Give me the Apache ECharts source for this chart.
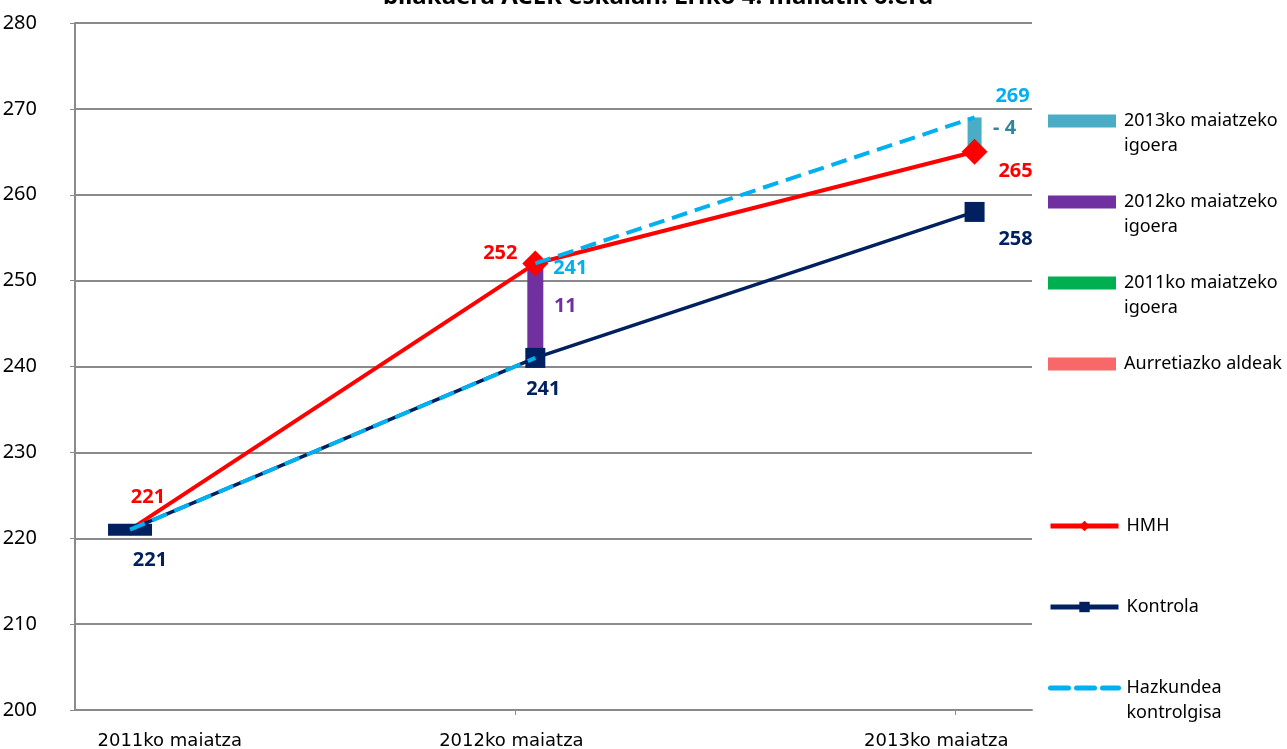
<!DOCTYPE html>
<html lang="eu">
<head>
<meta charset="UTF-8">
<title>ACER eskala</title>
<script src="https://cdn.jsdelivr.net/npm/echarts@6/dist/echarts.min.js"></script>
<style>
  html, body { margin: 0; padding: 0; background: #fff; }
  #chart { width: 1287px; height: 749px; }
</style>
</head>
<body>
<div id="chart"></div>
<script>
// datuak
var titleText = 'bilakaera ACER eskalan. LHko 4. mailatik 6.era';
var cats = ['2011ko maiatza', '2012ko maiatza', '2013ko maiatza'];
var pointX = [5.75, 48.1, 94.0];    // neurketa bakoitzaren kokapena x ardatzean (0-100)
var labelX = [9.9, 45.6, 90.0];     // kategoria-etiketen kokapena
var tickX = [46, 92];
var yMin = 200, yMax = 280, yStep = 10;

var hmh = [221, 252, 265];
var kontrola = [221, 241, 258];
var hazkundeaA = [221, 241];        // 2011 -> 2012
var hazkundeaB = [252, 269];        // 2012 -> 2013
var hazkundeaLabels = ['241', '269'];
var igoera2012 = [241, 252];
var igoera2013 = [265, 269];
var igoera2011 = [221, 221];
var aurretiazko = [221, 221];

var legendNames = ['2013ko maiatzeko igoera', '2012ko maiatzeko igoera', '2011ko maiatzeko igoera',
  'Aurretiazko aldeak', 'HMH', 'Kontrola', 'Hazkundea kontrolgisa'];
var legendText = {
  '2013ko maiatzeko igoera': '2013ko maiatzeko\nigoera',
  '2012ko maiatzeko igoera': '2012ko maiatzeko\nigoera',
  '2011ko maiatzeko igoera': '2011ko maiatzeko\nigoera',
  'Hazkundea kontrolgisa': 'Hazkundea\nkontrolgisa'
};

var FONT = 'Noto Sans';
var LH = 25;

function pts(xs, ys) {
  return ys.map(function (v, i) { return [xs[i], v]; });
}
function baseLabel() {
  return { show: true, position: 'inside', fontFamily: FONT, fontWeight: 'bold', fontSize: 20,
    formatter: function (p) { return p.data.txt; } };
}
function mk(data, color, offs, texts) {
  return data.map(function (d, i) {
    return { value: d, txt: texts[i], label: { show: texts[i] !== '', offset: offs[i], color: color } };
  });
}
// etiketak bakarrik (ikurrik gabeko serieentzat)
function labelSeries(id, data, color, offs, texts) {
  return {
    name: id, type: 'line', z: 6, symbol: 'circle', symbolSize: 0.1,
    itemStyle: { color: 'rgba(0,0,0,0)' }, lineStyle: { width: 0, opacity: 0 },
    data: mk(data, color, offs, texts), label: baseLabel()
  };
}

var chart = echarts.init(document.getElementById('chart'));

var legends = [];
var legendCenters = [121, 202, 283, 364, 526, 607, 688];
legendNames.forEach(function (n, i) {
  var two = !!legendText[n];
  var isBar = i < 4;
  var dashed = n === 'Hazkundea kontrolgisa';
  legends.push({
    data: [{ name: n, icon: isBar ? 'rect' : undefined }],
    left: 1048,
    top: legendCenters[i] - (two ? LH * 1.5 : LH / 2),
    padding: 0,
    itemWidth: 68,
    itemHeight: 13,
    selectedMode: false,
    itemStyle: dashed ? { opacity: 0 } : {},
    lineStyle: dashed ? { width: 5, type: [18, 8], cap: 'round' } : { width: 5 },
    // goiko lerro hutsa: lehen lerroa ikonoarekin lerrokatzeko
    formatter: function (name) { return legendText[name] ? ' \n' + legendText[name] : name; },
    textStyle: { fontFamily: FONT, fontSize: 18, color: '#000', lineHeight: LH, padding: [0, 0, 0, 3] }
  });
});

var option = {
  animation: false,
  backgroundColor: '#fff',
  title: {
    text: titleText,
    left: 653, top: -20, textAlign: 'center',
    textStyle: { fontFamily: FONT, fontWeight: 'bold', fontSize: 24, color: '#000' }
  },
  legend: legends,
  grid: { left: 75, right: 255, top: 23, bottom: 39, outerBoundsMode: 'none', containLabel: false },
  xAxis: {
    type: 'value', min: 0, max: 100,
    splitLine: { show: false },
    axisLine: { show: true, lineStyle: { color: '#8a8a8a', width: 2 } },
    axisTick: { show: true, customValues: tickX, length: 5, lineStyle: { color: '#8a8a8a', width: 1 } },
    axisLabel: {
      customValues: labelX, margin: 22, color: '#000', fontFamily: 'DejaVu Sans', fontSize: 18,
      formatter: function (v) {
        var i = labelX.indexOf(v);
        return i >= 0 ? cats[i] : '';
      }
    }
  },
  yAxis: {
    type: 'value', min: yMin, max: yMax, interval: yStep,
    axisLine: { show: true, lineStyle: { color: '#8a8a8a', width: 2 } },
    axisTick: { show: true, inside: false, length: 5, lineStyle: { color: '#8a8a8a', width: 1 } },
    axisLabel: { color: '#000', fontFamily: FONT, fontSize: 20, margin: 38 },
    splitLine: { show: true, lineStyle: { color: '#8a8a8a', width: 2 } }
  },
  series: [
    {
      name: '2013ko maiatzeko igoera', type: 'line', z: 2, symbol: 'none',
      color: '#4BACC6', lineStyle: { width: 14, color: '#4BACC6' },
      data: pts([pointX[2], pointX[2]], igoera2013)
    },
    {
      name: '2012ko maiatzeko igoera', type: 'line', z: 2, symbol: 'none',
      color: '#7030A0', lineStyle: { width: 16, color: '#7030A0' },
      data: pts([pointX[1], pointX[1]], igoera2012)
    },
    {
      name: '2011ko maiatzeko igoera', type: 'line', z: 2, symbol: 'none',
      color: '#00B050', lineStyle: { width: 14, color: '#00B050' },
      data: pts([pointX[0], pointX[0]], igoera2011)
    },
    {
      name: 'Aurretiazko aldeak', type: 'line', z: 2, symbol: 'none',
      color: '#F86868', lineStyle: { width: 14, color: '#F86868' },
      data: pts([pointX[0], pointX[0]], aurretiazko)
    },
    {
      name: 'HMH', type: 'line', z: 3, symbol: 'diamond',
      symbolSize: function (v, p) { return p.dataIndex === 0 ? 12 : 26; },
      color: '#FF0000', lineStyle: { width: 4, color: '#FF0000' },
      itemStyle: { color: '#FF0000' },
      data: mk(pts(pointX, hmh), '#FF0000', [[18, -32], [-35, -10], [41, 19]], hmh.map(String)),
      label: baseLabel()
    },
    {
      name: 'Kontrola', type: 'line', z: 4, symbol: 'rect',
      symbolSize: function (v, p) { return p.dataIndex === 0 ? [44, 12] : 20; },
      color: '#002060', lineStyle: { width: 3.5, color: '#002060' },
      itemStyle: { color: '#002060' },
      data: mk(pts(pointX, kontrola), '#002060', [[20, 31], [8, 31], [41, 27]], kontrola.map(String)),
      label: baseLabel()
    },
    {
      name: 'Hazkundea kontrolgisa', type: 'line', z: 5, symbol: 'none',
      color: '#00B0F0', lineStyle: { width: 4, color: '#00B0F0', type: [16, 8] },
      data: pts([pointX[0], pointX[1]], hazkundeaA)
    },
    {
      name: 'Hazkundea kontrolgisa', type: 'line', z: 5, symbol: 'none',
      color: '#00B0F0', lineStyle: { width: 4, color: '#00B0F0', type: [16, 8] },
      data: pts([pointX[1], pointX[2]], hazkundeaB)
    },
    labelSeries('lbl-hazkundea', pts([pointX[1], pointX[2]], hazkundeaB), '#00B0F0',
      [[35, 5], [38, -21]], hazkundeaLabels),
    labelSeries('lbl-2012', [[pointX[1], igoera2012[1]]], '#7030A0',
      [[30, 43]], [String(igoera2012[1] - igoera2012[0])]),
    labelSeries('lbl-2013', [[pointX[2], igoera2013[1]]], '#31859C',
      [[30, 11]], ['- ' + Math.abs(igoera2013[0] - igoera2013[1])])
  ]
};
chart.setOption(option);
</script>
</body>
</html>
